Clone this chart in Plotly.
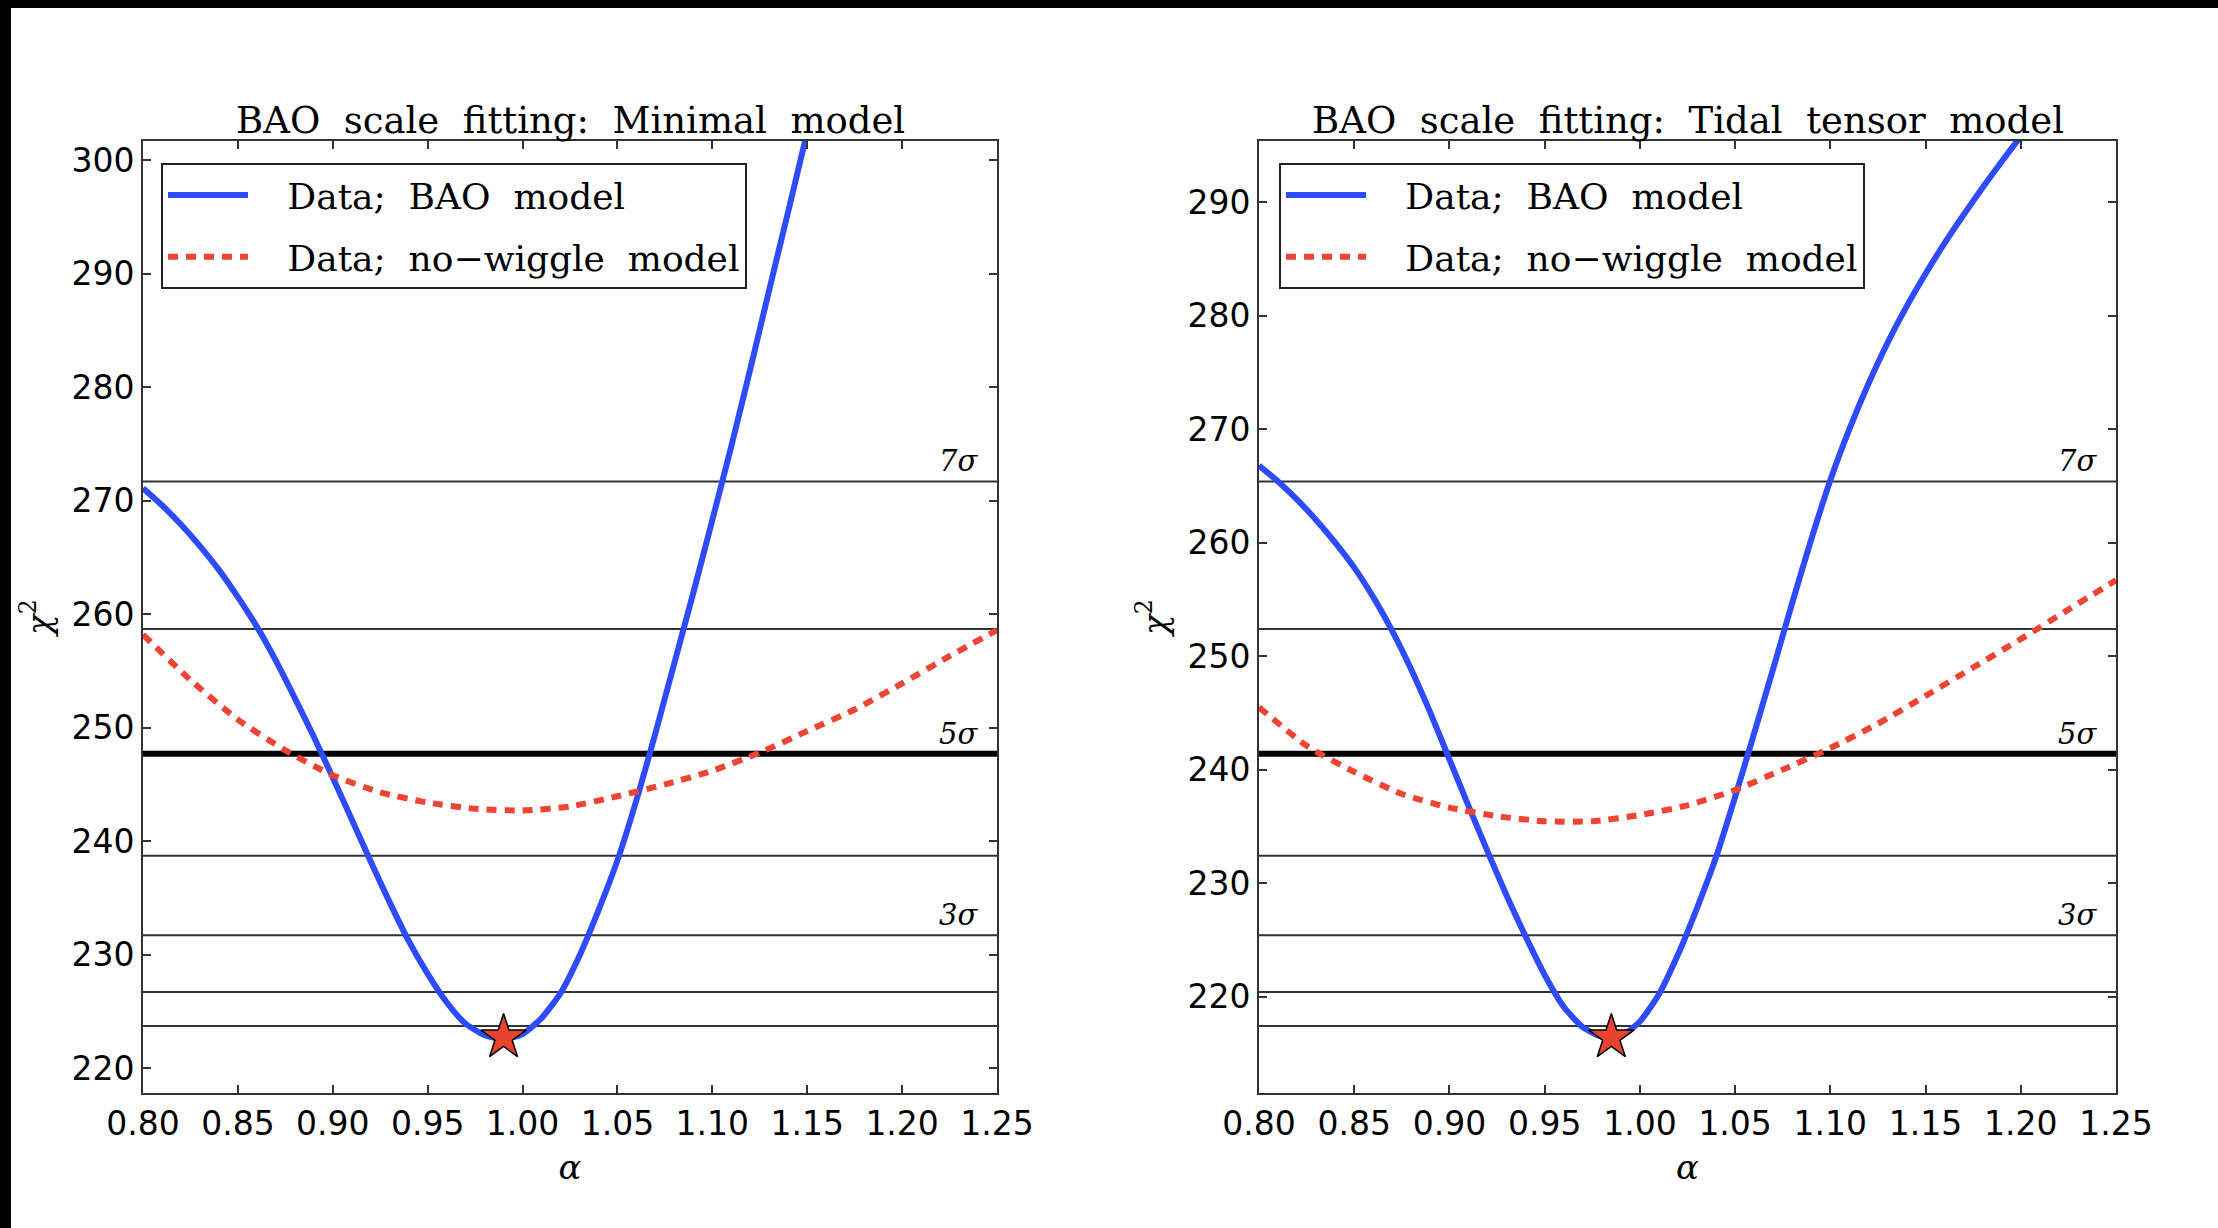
import plotly.graph_objects as go

# ---------------- data ----------------
# Left panel: Minimal model
alpha_min_bao = [0.80, 0.81, 0.82, 0.83, 0.84, 0.85, 0.86, 0.87, 0.88, 0.89, 0.90, 0.91, 0.92,
                 0.93, 0.94, 0.95, 0.96, 0.97, 0.98, 0.99, 1.00, 1.01, 1.02, 1.03, 1.04,
                 1.05, 1.06, 1.07, 1.08, 1.09, 1.10, 1.11, 1.12, 1.13, 1.14, 1.15]
chi2_min_bao = [271.1, 269.6, 267.9, 266.0, 263.9, 261.5, 258.9, 255.9, 252.6, 249.2, 245.6, 241.9, 238.2,
                234.6, 231.2, 228.3, 225.8, 223.9, 222.9, 222.55, 223.0, 224.4, 226.6, 229.9, 233.9,
                238.3, 243.6, 249.5, 255.7, 261.9, 268.3, 274.8, 281.6, 288.6, 295.5, 302.5]

alpha_min_nw = [0.800, 0.825, 0.850, 0.875, 0.900, 0.925, 0.950, 0.975, 1.000, 1.025,
                1.050, 1.075, 1.100, 1.125, 1.150, 1.175, 1.200, 1.225, 1.250]
chi2_min_nw = [258.2, 254.2, 250.7, 248.0, 245.8, 244.3, 243.4, 242.85, 242.7, 243.05,
               243.95, 245.0, 246.2, 247.8, 249.7, 251.6, 253.9, 256.3, 258.6]

# Right panel: Tidal tensor model
alpha_tid_bao = [0.80, 0.81, 0.82, 0.83, 0.84, 0.85, 0.86, 0.87, 0.88, 0.89, 0.90, 0.91, 0.92,
                 0.93, 0.94, 0.95, 0.96, 0.97, 0.98, 0.99, 1.00, 1.01, 1.02, 1.03, 1.04,
                 1.05, 1.06, 1.07, 1.08, 1.09, 1.10, 1.11, 1.12, 1.13, 1.14, 1.15, 1.16,
                 1.17, 1.18, 1.19, 1.20, 1.21]
chi2_tid_bao = [266.8, 265.4, 263.8, 262.0, 260.0, 257.8, 255.2, 252.2, 248.8, 245.0, 240.9, 236.8, 232.8,
                228.9, 225.3, 221.9, 219.1, 217.3, 216.45, 216.5, 217.8, 220.2, 223.7, 227.8, 232.3,
                237.6, 243.2, 248.9, 254.7, 260.3, 265.5, 270.0, 274.0, 277.6, 280.8, 283.7, 286.4,
                288.9, 291.3, 293.6, 295.8, 297.9]

alpha_tid_nw = [0.800, 0.825, 0.850, 0.875, 0.900, 0.925, 0.950, 0.975, 1.000, 1.025,
                1.050, 1.075, 1.100, 1.125, 1.150, 1.175, 1.200, 1.225, 1.250]
chi2_tid_nw = [245.5, 242.1, 239.8, 237.85, 236.65, 235.9, 235.45, 235.45, 236.0, 236.85,
               238.2, 240.0, 241.9, 244.05, 246.5, 249.0, 251.5, 254.1, 256.7]

# best fits (stars)
best_alpha_min, best_chi2_min = 0.990, 222.7
best_alpha_tid, best_chi2_tid = 0.985, 216.4

# confidence levels: delta chi^2 above the minimum (1..7 sigma)
sigma_n = [1, 2, 3, 4, 5, 6, 7]
delta_chi2 = [1, 4, 9, 16, 25, 36, 49]
labelled_sigma = [3, 5, 7]
thick_sigma = 5

x_ticks = [0.80, 0.85, 0.90, 0.95, 1.00, 1.05, 1.10, 1.15, 1.20, 1.25]
y_ticks_min = [220, 230, 240, 250, 260, 270, 280, 290, 300]
y_ticks_tid = [220, 230, 240, 250, 260, 270, 280, 290]
y_range_min = [217.8, 301.7]
y_range_tid = [211.5, 295.4]

title_min = "BAO\u00a0\u00a0scale\u00a0\u00a0fitting:\u00a0\u00a0Minimal\u00a0\u00a0model"
title_tid = "BAO\u00a0\u00a0scale\u00a0\u00a0fitting:\u00a0\u00a0Tidal\u00a0\u00a0tensor\u00a0\u00a0model"
name_bao = "\u00a0\u00a0\u00a0Data;\u00a0\u00a0BAO\u00a0\u00a0model"
name_nw = "\u00a0\u00a0\u00a0Data;\u00a0\u00a0no\u2212wiggle\u00a0\u00a0model"

# ---------------- styling ----------------
W, H = 2218, 1228
ML, MR, MT, MB = 143, 102, 141, 135
PW, PH = W - ML - MR, H - MT - MB
BLUE = "#2d4bff"
RED = "#ee4433"
STAR = "#e8432d"
AX = "#333333"
SERIF = "DejaVu Serif"
SANS = "DejaVu Sans"

dom_left = [0.0, (997 - ML) / PW]
dom_right = [(1259 - ML) / PW, 1.0]

fig = go.Figure()

panels = [
    dict(xa="x", ya="y", leg="legend", ab=alpha_min_bao, cb=chi2_min_bao, an=alpha_min_nw, cn=chi2_min_nw,
         bx=best_alpha_min, by=best_chi2_min),
    dict(xa="x2", ya="y2", leg="legend2", ab=alpha_tid_bao, cb=chi2_tid_bao, an=alpha_tid_nw, cn=chi2_tid_nw,
         bx=best_alpha_tid, by=best_chi2_tid),
]

for i, p in enumerate(panels):
    fig.add_trace(go.Scatter(x=p["ab"], y=p["cb"], mode="lines", name=name_bao,
                             line=dict(color=BLUE, width=6, shape="spline", smoothing=0.6),
                             xaxis=p["xa"], yaxis=p["ya"], legend=p["leg"],
                             legendgroup=f"b{i}", hoverinfo="x+y"))
    fig.add_trace(go.Scatter(x=p["an"], y=p["cn"], mode="lines", name=name_nw,
                             line=dict(color=RED, width=6, dash="10px,8px", shape="spline", smoothing=0.6),
                             xaxis=p["xa"], yaxis=p["ya"], legend=p["leg"],
                             legendgroup=f"n{i}", hoverinfo="x+y"))
    fig.add_trace(go.Scatter(x=[p["bx"]], y=[p["by"]], mode="markers", showlegend=False,
                             marker=dict(symbol="star", size=34, color=STAR,
                                         line=dict(color="black", width=1.5)),
                             xaxis=p["xa"], yaxis=p["ya"], cliponaxis=False))
    # confidence level lines
    for n, d in zip(sigma_n, delta_chi2):
        yv = p["by"] + d
        fig.add_shape(type="line", xref=f"{p['xa']} domain", yref=p["ya"],
                      x0=0, x1=1, y0=yv, y1=yv, layer="below",
                      line=dict(color="black" if n == thick_sigma else AX,
                                width=6 if n == thick_sigma else 2))
        if n in labelled_sigma:
            fig.add_annotation(x=1.241, y=yv, xref=p["xa"], yref=p["ya"],
                               text=f"<i>{n}\u03c3</i>", showarrow=False,
                               xanchor="right", yanchor="bottom", yshift=1,
                               font=dict(family=SERIF, size=29, color="black"))

# panel titles
for dom, t in [(dom_left, title_min), (dom_right, title_tid)]:
    fig.add_annotation(x=(dom[0] + dom[1]) / 2, y=(1093 - 120) / PH, xref="paper", yref="paper",
                       text=t, showarrow=False, xanchor="center", yanchor="middle",
                       font=dict(family=SERIF, size=37, color="black"))

# black border strips of the original image (top and left)
fig.add_shape(type="rect", xref="paper", yref="paper", layer="above",
              x0=(0 - ML) / PW, x1=(W - ML) / PW, y0=(H - MB - 8) / PH, y1=(H - MB) / PH,
              fillcolor="black", line=dict(width=0))
fig.add_shape(type="rect", xref="paper", yref="paper", layer="above",
              x0=(0 - ML) / PW, x1=(11 - ML) / PW, y0=(0 - MB) / PH, y1=(H - MB) / PH,
              fillcolor="black", line=dict(width=0))


def xaxis_style(domain, anchor):
    return dict(domain=domain, anchor=anchor, range=[0.8, 1.25],
                tickvals=x_ticks, ticktext=[f"{v:.2f}" for v in x_ticks],
                ticks="inside", ticklen=8, tickwidth=1.5, tickcolor=AX,
                mirror="allticks", showline=True, linecolor=AX, linewidth=2,
                showgrid=False, zeroline=False,
                tickfont=dict(family=SANS, size=33, color="black"),
                title=dict(text="<i>\u03b1</i>", standoff=14,
                           font=dict(family=SERIF, size=34, color="black")))


def yaxis_style(rng, ticks, anchor):
    return dict(domain=[0, 1], anchor=anchor, range=rng, tickvals=ticks,
                ticks="inside", ticklen=8, tickwidth=1.5, tickcolor=AX,
                mirror="allticks", showline=True, linecolor=AX, linewidth=2,
                showgrid=False, zeroline=False,
                tickfont=dict(family=SANS, size=33, color="black"),
                title=dict(text="<i>\u03c7</i><sup>2</sup>", standoff=10,
                           font=dict(family=SERIF, size=34, color="black")))


legend_common = dict(xanchor="left", yanchor="top", bgcolor="white",
                     bordercolor="#222222", borderwidth=2,
                     font=dict(family=SERIF, size=36, color="black"),
                     itemwidth=80, tracegroupgap=12, traceorder="grouped")

fig.update_layout(
    width=W, height=H,
    margin=dict(l=ML, r=MR, t=MT, b=MB, autoexpand=False),
    paper_bgcolor="white", plot_bgcolor="white",
    showlegend=True,
    xaxis=xaxis_style(dom_left, "y"),
    yaxis=yaxis_style(y_range_min, y_ticks_min, "x"),
    xaxis2=xaxis_style(dom_right, "y2"),
    yaxis2=yaxis_style(y_range_tid, y_ticks_tid, "x2"),
    legend=dict(x=(161 - ML) / PW, y=1 - (163 - MT) / PH, **legend_common),
    legend2=dict(x=(1279 - ML) / PW, y=1 - (163 - MT) / PH, **legend_common),
)

fig.write_html("out.html",
               config={"displayModeBar": False},
               post_script="document.body.style.margin='0px';document.body.style.overflow='hidden';")
